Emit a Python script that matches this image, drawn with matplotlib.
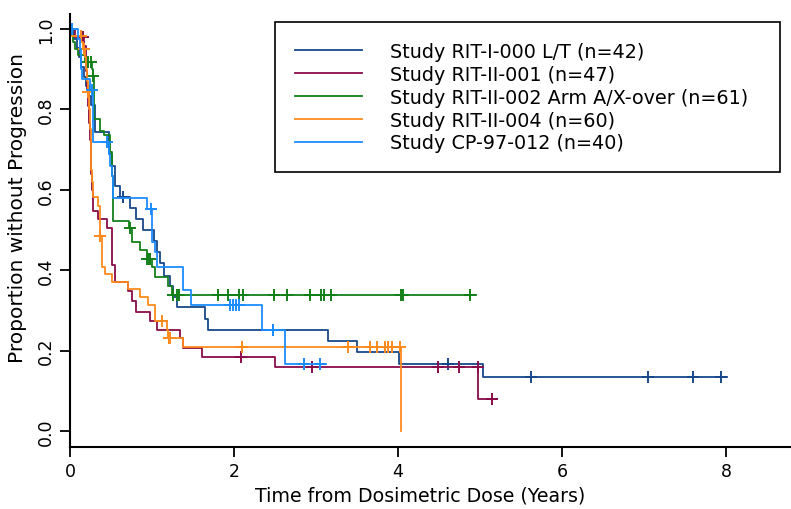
import numpy as np
import matplotlib.pyplot as plt

plt.rcParams['font.family'] = ['DejaVu Sans']

# step curves: time of each drop and the proportion after it
nav_t = [0, 0.05, 0.08, 0.11, 0.14, 0.17, 0.20, 0.23, 0.26, 0.30, 0.47, 0.51, 0.55, 0.61, 0.73, 0.81,
         0.89, 1.02, 1.06, 1.10, 1.15, 1.22, 1.26, 1.30, 1.64, 1.68, 3.14, 3.50, 4.01, 5.03, 8.01]
nav_s = [1.0, 0.976, 0.952, 0.929, 0.905, 0.881, 0.857, 0.833, 0.81, 0.743, 0.689, 0.66, 0.61, 0.581, 0.554, 0.527,
         0.50, 0.472, 0.444, 0.417, 0.386, 0.361, 0.334, 0.307, 0.279, 0.25, 0.224, 0.196, 0.167, 0.134, 0.134]
nav_c = [0.65, 2.48, 4.61, 5.62, 7.05, 7.59, 7.94]

mar_t = [0, 0.06, 0.17, 0.19, 0.20, 0.21, 0.22, 0.23, 0.24, 0.25, 0.26, 0.27, 0.284, 0.345, 0.447, 0.508,
         0.549, 0.711, 0.752, 0.805, 0.976, 1.057, 1.341, 1.374, 1.606, 2.50, 4.98, 5.20]
mar_s = [1.0, 0.979, 0.957, 0.936, 0.894, 0.851, 0.809, 0.766, 0.723, 0.681, 0.638, 0.60, 0.548, 0.527, 0.504, 0.413,
         0.370, 0.349, 0.324, 0.297, 0.274, 0.252, 0.231, 0.207, 0.183, 0.158, 0.08, 0.08]
mar_c = [0.16, 2.09, 2.95, 4.49, 4.74, 4.97, 5.15]

grn_t = [0, 0.02, 0.04, 0.06, 0.10, 0.18, 0.27, 0.28, 0.29, 0.37, 0.41, 0.49, 0.51, 0.53, 0.72, 0.75,
         0.854, 0.935, 0.996, 1.037, 1.199, 1.24, 4.95]
grn_s = [1.0, 0.984, 0.967, 0.951, 0.934, 0.918, 0.901, 0.884, 0.776, 0.747, 0.735, 0.693, 0.635, 0.523, 0.504, 0.469,
         0.449, 0.428, 0.407, 0.382, 0.361, 0.338, 0.338]
grn_c = [0.22, 0.25, 0.285, 0.73, 0.94, 0.96, 0.98, 1.26, 1.30, 1.33, 1.81, 1.93, 2.06, 2.11, 2.49, 2.65,
         2.92, 3.06, 3.10, 3.18, 4.04, 4.06, 4.88]

org_t = [0, 0.03, 0.14, 0.16, 0.18, 0.20, 0.21, 0.22, 0.23, 0.24, 0.25, 0.26, 0.27, 0.276, 0.345, 0.36,
         0.386, 0.427, 0.508, 0.71, 0.854, 0.955, 1.037, 1.18, 1.19, 1.38, 4.04]
org_s = [1.0, 0.983, 0.967, 0.95, 0.93, 0.90, 0.87, 0.843, 0.80, 0.75, 0.70, 0.65, 0.62, 0.581, 0.56, 0.486,
         0.407, 0.39, 0.37, 0.353, 0.332, 0.312, 0.273, 0.25, 0.231, 0.209, 0.0]
org_c = [0.13, 0.17, 0.225, 0.37, 1.12, 1.21, 1.22, 2.10, 3.39, 3.66, 3.74, 3.84, 3.88, 3.93, 4.02]

blu_t = [0, 0.10, 0.12, 0.13, 0.14, 0.15, 0.244, 0.284, 0.47, 0.49, 0.51, 0.52, 0.935, 1.00, 1.037, 1.057,
         1.38, 1.48, 2.34, 2.62, 3.12]
blu_s = [1.0, 0.975, 0.95, 0.925, 0.90, 0.876, 0.847, 0.718, 0.69, 0.66, 0.635, 0.58, 0.552, 0.47, 0.444, 0.407,
         0.35, 0.312, 0.251, 0.167, 0.167]
blu_c = [0.02, 0.27, 0.45, 0.99, 1.95, 1.99, 2.02, 2.06, 2.48, 2.85, 3.05]

labels = ['Study RIT-I-000 L/T (n=42)', 'Study RIT-II-001 (n=47)', 'Study RIT-II-002 Arm A/X-over (n=61)',
          'Study RIT-II-004 (n=60)', 'Study CP-97-012 (n=40)']
colors = ['#17498a', '#8a0c4a', '#14801a', '#ff8a1c', '#1b8cff']
curves = [(nav_t, nav_s, nav_c), (mar_t, mar_s, mar_c), (grn_t, grn_s, grn_c),
          (org_t, org_s, org_c), (blu_t, blu_s, blu_c)]


def level_at(t, s, when):
    idx = np.searchsorted(t, when, side='right') - 1
    return np.array(s)[idx]


fig = plt.figure(figsize=(7.91, 5.10), dpi=100)
ax = fig.add_axes([70/791, 62/510, 721/791, 433/510])

for (t, s, c), col, lab in zip(curves, colors, labels):
    ax.step(t, s, where='post', color=col, lw=1.3, label=lab)
    ax.plot(c, level_at(t, s, c), ls='none', marker='+', ms=9, mew=1.4, color=col)

ax.set_xlim(0, 8.79)
ax.set_ylim(-0.04, 1.037)
ax.set_xticks([0, 2, 4, 6, 8])
ax.set_yticks([0.0, 0.2, 0.4, 0.6, 0.8, 1.0])
ax.set_yticklabels(['0.0', '0.2', '0.4', '0.6', '0.8', '1.0'], rotation=90, va='center')
ax.tick_params(labelsize=12.5, length=7, width=1.3, pad=4)
for side in ['top', 'right']:
    ax.spines[side].set_visible(False)
for side in ['left', 'bottom']:
    ax.spines[side].set_linewidth(1.5)

ax.set_xlabel('Time from Dosimetric Dose (Years)', fontsize=13.7)
ax.set_ylabel('Proportion without Progression', fontsize=14.5)
ax.xaxis.set_label_coords((420 - 70) / 721, -(487 - 448) / 433)
ax.yaxis.set_label_coords(-(70 - 27) / 721, (448 - 208) / 433)

leg = ax.legend(loc='upper left', bbox_to_anchor=(275/791, 1 - 28/510, 505/791, 0.01),
                bbox_transform=fig.transFigure, mode='expand', borderaxespad=0,
                fontsize=13.8, handlelength=3.5, handletextpad=1.45, labelspacing=0.2,
                borderpad=1.05, fancybox=False, framealpha=1)
leg.get_frame().set_edgecolor('black')
leg.get_frame().set_linewidth(1.2)

fig.savefig('out.png', dpi=100)
